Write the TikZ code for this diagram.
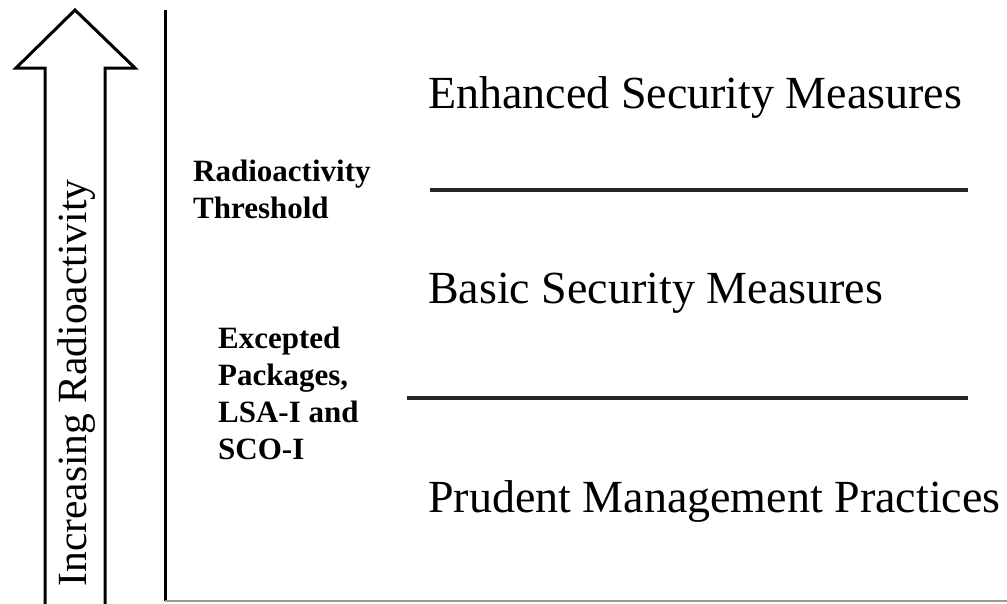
\documentclass[tikz,border=0pt]{standalone}
\usepackage{fontspec}
\setmainfont{Liberation Serif}
\usepackage{tikz}
\usetikzlibrary{positioning}
\tikzset{
  level/.style={anchor=base west,inner sep=0pt,font=\fontsize{46}{52}\selectfont},
  bound/.style={anchor=north west,inner sep=0pt,align=left,font=\fontsize{31}{37}\selectfont\bfseries},
  axislabel/.style={rotate=90,inner sep=0pt,font=\fontsize{41.5}{48}\selectfont},
  hollowarrow/.style={draw=black,line width=3pt,line join=miter},
  axis/.style={draw=black,line width=3pt},
  divider/.style={draw=black!85,line width=3.5pt},
  baseline/.style={draw=black!40,line width=2pt}
}
\begin{document}
\begin{tikzpicture}[x=1pt,y=-1pt]
  \useasboundingbox (0,0) rectangle (1007,603);

  % increasing radioactivity arrow
  \draw[hollowarrow] (45,605) -- (45,68) -- (16,68) -- (75,10) -- (135,68) -- (105,68) -- (105,605);
  \node[axislabel] (rise) at (77,383) {Increasing Radioactivity};

  % frame
  \coordinate (top) at (165,10);
  \coordinate (corner) at (165,601);
  \coordinate (end) at (1007,601);
  \draw[axis] (top) -- (corner);
  \draw[baseline] (corner) -- (end);

  % security levels
  \node[level] (enhanced) at (428,108) {Enhanced Security Measures};
  \node[level] (basic) at (428,303) {Basic Security Measures};
  \node[level] (prudent) at (428,512) {Prudent Management Practices};

  \coordinate (upperL) at (430,190);
  \coordinate (upperR) at (968,190);
  \coordinate (lowerL) at (407,398);
  \coordinate (lowerR) at (968,398);
  \draw[divider] (upperL) -- (upperR);
  \draw[divider] (lowerL) -- (lowerR);

  % thresholds
  \node[bound] (threshold) at (193,160) {Radioactivity\\Threshold};
  \node[bound] (excepted) at (218,327) {Excepted\\Packages,\\LSA-I and\\SCO-I};
\end{tikzpicture}
\end{document}
